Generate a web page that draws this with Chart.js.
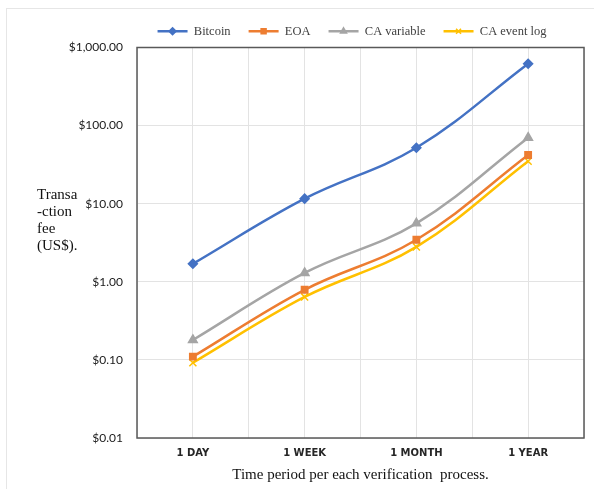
<!DOCTYPE html>
<html>
<head>
<meta charset="utf-8">
<script src="https://cdn.jsdelivr.net/npm/chart.js@4"></script>
<style>
  body { margin: 0; background: #fff; }
  #wrap { width: 594px; height: 489px; }
</style>
</head>
<body>
<div id="wrap"><canvas id="chart1" width="594" height="489"></canvas></div>
<script>
// data (log scale, US$)
var periods = ['1 DAY', '1 WEEK', '1 MONTH', '1 YEAR'];
var bitcoin = [1.7, 11.6, 52, 620];
var eoa = [0.11, 0.79, 3.45, 42];
var caVariable = [0.18, 1.3, 5.6, 70];
var caEventLog = [0.092, 0.64, 2.8, 35];
var yTicks = [0.01, 0.1, 1, 10, 100, 1000];
var yTitleLines = ['Transa', '-ction', 'fee', '(US$).'];

function toPoints(arr) {
  return arr.map(function (v, i) { return { x: i, y: v }; });
}

function money(v) {
  return '$' + Number(v).toLocaleString('en-US', { minimumFractionDigits: 2, maximumFractionDigits: 2 });
}

function series(label, values, color, style, rad) {
  return {
    label: label,
    data: toPoints(values),
    borderColor: color,
    backgroundColor: color,
    pointBackgroundColor: color,
    pointBorderColor: color,
    pointStyle: style,
    pointRadius: rad,
    pointBorderWidth: 1.5,
    borderWidth: 2.5,
    tension: 0.38
  };
}

// frame round the plot, y tick labels (the axis box is narrow, so they are
// drawn here to avoid clipping), the y title and markers in the legend
var extras = {
  id: 'extras',
  afterDraw: function (chart) {
    var ctx = chart.ctx;
    var a = chart.chartArea;
    var ys = chart.scales.y;
    ctx.save();
    ctx.strokeStyle = '#e6e6e6';
    ctx.lineWidth = 1;
    ctx.strokeRect(6.5, 8.5, 594, 489);
    ctx.strokeStyle = '#595959';
    ctx.lineWidth = 1.5;
    ctx.strokeRect(a.left, a.top, a.right - a.left, a.bottom - a.top);

    ctx.fillStyle = '#1a1a1a';
    ctx.font = '12px Lato';
    ctx.textAlign = 'right';
    ctx.textBaseline = 'middle';
    yTicks.forEach(function (v) {
      ctx.fillText(money(v), a.left - 14, ys.getPixelForValue(v));
    });

    ctx.fillStyle = '#111';
    ctx.font = '15px "Liberation Serif"';
    ctx.textAlign = 'left';
    ctx.textBaseline = 'alphabetic';
    yTitleLines.forEach(function (t, i) {
      ctx.fillText(t, 37, 199 + i * 17);
    });

    var boxes = chart.legend.legendHitBoxes;
    chart.data.datasets.forEach(function (ds, i) {
      var b = boxes[i];
      if (!b) return;
      ctx.fillStyle = ds.borderColor;
      ctx.strokeStyle = ds.borderColor;
      Chart.helpers.drawPoint(ctx, {
        pointStyle: ds.pointStyle,
        radius: 3.5,
        borderWidth: 1.5
      }, b.left + 15, b.top + b.height / 2);
    });
    ctx.restore();
  }
};

var chartCanvas = document.getElementById('chart1');
var chartMain = new Chart(chartCanvas, {
  type: 'line',
  data: {
    datasets: [
      series('Bitcoin', bitcoin, '#4472C4', 'rectRot', 4.5),
      series('EOA', eoa, '#ED7D31', 'rect', 4.5),
      series('CA variable', caVariable, '#A5A5A5', 'triangle', 5),
      series('CA event log', caEventLog, '#FFC000', 'crossRot', 5)
    ]
  },
  plugins: [extras],
  options: {
    responsive: false,
    animation: false,
    devicePixelRatio: 1,
    layout: { padding: { top: 7, right: 2, bottom: 6, left: 112 } },
    plugins: {
      tooltip: { enabled: false },
      legend: {
        position: 'top',
        labels: {
          boxWidth: 30,
          boxHeight: 2.5,
          padding: 18,
          color: '#404040',
          font: { family: '"Liberation Serif"', size: 12.5 },
          generateLabels: function (chart) {
            return chart.data.datasets.map(function (ds, i) {
              return {
                text: ds.label,
                fillStyle: ds.borderColor,
                strokeStyle: ds.borderColor,
                lineWidth: 0,
                datasetIndex: i,
                fontColor: '#404040'
              };
            });
          }
        }
      }
    },
    scales: {
      x: {
        type: 'linear',
        min: -0.5,
        max: 3.5,
        afterBuildTicks: function (s) {
          var t = [];
          for (var v = -0.5; v <= 3.5; v += 0.5) t.push({ value: v });
          s.ticks = t;
        },
        ticks: {
          autoSkip: false,
          maxRotation: 0,
          padding: 10,
          color: '#262626',
          font: { family: '"DejaVu Sans"', size: 10, weight: 'bold', lineHeight: 1 },
          callback: function (v) {
            return Number.isInteger(v) ? periods[v] : '';
          }
        },
        grid: { color: '#e3e3e3', drawTicks: false },
        border: { display: false },
        title: {
          display: true,
          text: 'Time period per each verification  process.',
          color: '#111',
          font: { family: '"Liberation Serif"', size: 15, lineHeight: 1 },
          padding: { top: 0, bottom: 0 }
        }
      },
      y: {
        type: 'logarithmic',
        min: 0.01,
        max: 1000,
        afterBuildTicks: function (s) {
          s.ticks = yTicks.map(function (v) { return { value: v }; });
        },
        afterFit: function (s) { s.width = 25; },
        ticks: { display: false },
        grid: { color: '#e3e3e3', drawTicks: false },
        border: { display: false }
      }
    }
  }
});
</script>
</body>
</html>
